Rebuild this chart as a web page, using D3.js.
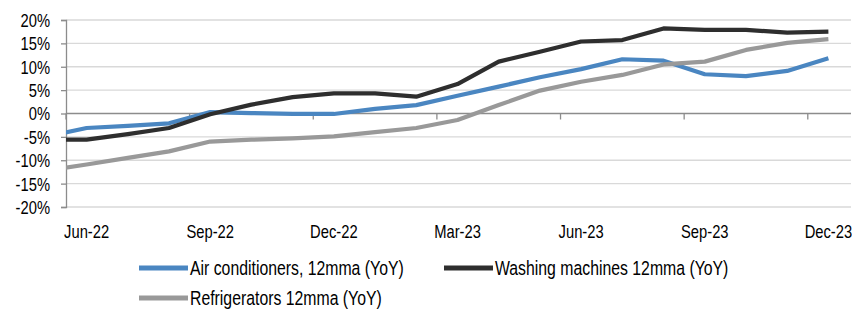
<!DOCTYPE html>
<html>
<head>
<meta charset="utf-8">
<script src="https://cdn.jsdelivr.net/npm/d3@7"></script>
<style>
  html, body { margin: 0; padding: 0; background: #fff; }
  svg text { font-family: "Liberation Sans", Arial, sans-serif; fill: #000; }
</style>
</head>
<body>
<svg id="chart" width="852" height="323"></svg>
<script>
const months = ["May-22","Jun-22","Jul-22","Aug-22","Sep-22","Oct-22","Nov-22","Dec-22",
  "Jan-23","Feb-23","Mar-23","Apr-23","May-23","Jun-23","Jul-23","Aug-23","Sep-23","Oct-23","Nov-23","Dec-23"];
const airConditioners = [-5.0, -3.1, -2.65, -2.1, 0.3, 0.1, -0.1, -0.1, 1.0, 1.8, 3.8, 5.75, 7.75, 9.5, 11.6, 11.3, 8.4, 8.0, 9.1, 11.8];
const washingMachines = [-5.6, -5.6, -4.4, -3.1, -0.15, 1.9, 3.5, 4.3, 4.3, 3.6, 6.3, 11.1, 13.2, 15.4, 15.7, 18.2, 17.9, 17.9, 17.3, 17.5];
const refrigerators = [-12.3, -10.9, -9.5, -8.1, -6.0, -5.6, -5.3, -4.9, -4.0, -3.1, -1.4, 1.8, 4.9, 6.8, 8.25, 10.5, 11.1, 13.6, 15.1, 15.9];
const yTicks = [-20, -15, -10, -5, 0, 5, 10, 15, 20];
const xLabels = ["Jun-22","Sep-22","Dec-22","Mar-23","Jun-23","Sep-23","Dec-23"];
const seriesNames = ["Air conditioners, 12mma (YoY)", "Washing machines 12mma (YoY)", "Refrigerators 12mma (YoY)"];
const seriesColors = ["#4a86c1", "#2e2e2e", "#999999"];

(function () {
const svg = d3.select("#chart");
const pL = 66, pR = 849, pT = 20, pB = 207;
const NARROW = 0.82;

const x = d3.scaleLinear().domain([0.5, months.length - 0.5]).range([pL, pR]);
const y = d3.scaleLinear().domain([-20, 20]).range([pB, pT]);

// gridlines
svg.append("g").selectAll("line").data(yTicks.filter(d => d !== 0)).join("line")
  .attr("x1", pL).attr("x2", 851)
  .attr("y1", d => y(d)).attr("y2", d => y(d))
  .attr("stroke", "#d9d9d9").attr("stroke-width", 1.3);

// y axis
const yAxis = d3.axisLeft(y).tickValues(yTicks).tickSize(5).tickFormat(d => d + "%");
const gy = svg.append("g").attr("transform", `translate(${pL},0)`).call(yAxis);
gy.select(".domain").attr("stroke", "#8c8c8c").attr("stroke-width", 1.3);
gy.selectAll(".tick line").attr("stroke", "#8c8c8c").attr("stroke-width", 1.3);
gy.selectAll(".tick text").attr("font-size", 18).attr("x", 0).attr("dy", "0.36em")
  .attr("transform", `translate(-16,0) scale(${NARROW},1)`)
  .style("font-family", '"Liberation Sans", Arial, sans-serif');

// zero axis line with tick marks every 3 months
const tickIdx = d3.range(0.5, months.length, 3);
svg.append("line").attr("x1", pL).attr("x2", 851).attr("y1", y(0)).attr("y2", y(0))
  .attr("stroke", "#8c8c8c").attr("stroke-width", 1.3);
svg.append("g").selectAll("line").data(tickIdx).join("line")
  .attr("x1", d => x(d)).attr("x2", d => x(d))
  .attr("y1", y(0)).attr("y2", y(0) + 6)
  .attr("stroke", "#8c8c8c").attr("stroke-width", 1.3);

// x labels
svg.append("g").selectAll("text").data(xLabels).join("text")
  .attr("transform", d => `translate(${x(months.indexOf(d))},238) scale(${NARROW},1)`)
  .attr("text-anchor", "middle")
  .attr("font-size", 18)
  .text(d => d);

// clip
svg.append("defs").append("clipPath").attr("id", "plotclip")
  .append("rect").attr("x", pL).attr("y", 0).attr("width", 852 - pL).attr("height", 323);

const line = d3.line().x((d, i) => x(i)).y(d => y(d));
const allSeries = [airConditioners, washingMachines, refrigerators];
const gl = svg.append("g").attr("clip-path", "url(#plotclip)");
allSeries.forEach((s, k) => {
  gl.append("path").datum(s).attr("d", line)
    .attr("fill", "none").attr("stroke", seriesColors[k])
    .attr("stroke-width", 4.2).attr("stroke-linejoin", "round");
});

// legend
const legendPos = [{x: 139, y: 268}, {x: 444, y: 268}, {x: 139, y: 298}];
const lg = svg.append("g");
seriesNames.forEach((name, k) => {
  const p = legendPos[k];
  lg.append("line").attr("x1", p.x).attr("x2", p.x + 49).attr("y1", p.y).attr("y2", p.y)
    .attr("stroke", seriesColors[k]).attr("stroke-width", 5);
  lg.append("text")
    .attr("transform", `translate(${p.x + 51},${p.y}) scale(${NARROW},1)`)
    .attr("dy", "0.36em")
    .attr("font-size", 19.3).text(name);
});
})();
</script>
</body>
</html>
